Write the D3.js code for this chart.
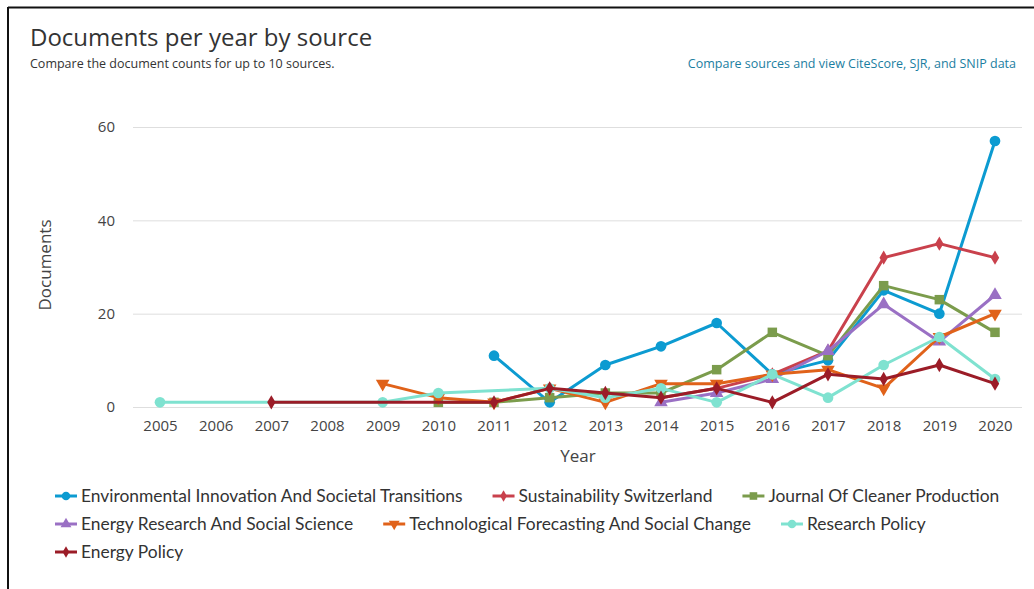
<!DOCTYPE html>
<html><head><meta charset="utf-8">
<script src="https://cdn.jsdelivr.net/npm/d3@7/dist/d3.min.js"></script>
<style>
html,body{margin:0;padding:0;background:#fff;}
svg{display:block;font-family:"Open Sans","Noto Sans",sans-serif;}
</style></head>
<body><svg id="c" width="1034" height="589"></svg>
<script>
const years = d3.range(2005, 2021);
const yTicks = [0, 20, 40, 60];
const seriesNames = [
  "Environmental Innovation And Societal Transitions",
  "Sustainability Switzerland",
  "Journal Of Cleaner Production",
  "Energy Research And Social Science",
  "Technological Forecasting And Social Change",
  "Research Policy",
  "Energy Policy"
];
const seriesColors = ["#0c9bd1","#c9414c","#7b9c4c","#9a70c4","#e0621a","#7fe2d0","#9b1c27"];
const seriesSymbols = ["circle","diamond","square","triangle","triangleDown","circle","diamond"];
// values as [year, count]
const envInnovation = [[2011,11],[2012,1],[2013,9],[2014,13],[2015,18],[2016,7],[2017,10],[2018,25],[2019,20],[2020,57]];
const sustainability = [[2014,2],[2015,4],[2016,7],[2017,12],[2018,32],[2019,35],[2020,32]];
const cleanerProd = [[2010,1],[2011,1],[2012,2],[2013,3],[2014,3],[2015,8],[2016,16],[2017,11],[2018,26],[2019,23],[2020,16]];
const energyResearch = [[2014,1],[2015,3],[2016,6],[2017,12],[2018,22],[2019,14],[2020,24]];
const techForecasting = [[2009,5],[2010,2],[2011,1],[2012,4],[2013,1],[2014,5],[2015,5],[2016,7],[2017,8],[2018,4],[2019,15],[2020,20]];
const researchPolicy = [[2005,1],[2009,1],[2010,3],[2012,4],[2013,2],[2014,4],[2015,1],[2016,7],[2017,2],[2018,9],[2019,15],[2020,6]];
const energyPolicy = [[2007,1],[2011,1],[2012,4],[2013,3],[2014,2],[2015,4],[2016,1],[2017,7],[2018,6],[2019,9],[2020,5]];
const seriesValues = [envInnovation, sustainability, cleanerProd, energyResearch, techForecasting, researchPolicy, energyPolicy];

const svg = d3.select("#c");
// frame
svg.append("line").attr("x1",8).attr("x2",1034).attr("y1",7.5).attr("y2",7.5).attr("stroke","#111").attr("stroke-width",2);
svg.append("line").attr("x1",8).attr("x2",8).attr("y1",7).attr("y2",589).attr("stroke","#111").attr("stroke-width",2);

svg.append("text").attr("x",30).attr("y",46).attr("font-size",24).attr("fill","#333").text("Documents per year by source");
svg.append("text").attr("x",30).attr("y",68).attr("font-size",12.5).attr("fill","#333").text("Compare the document counts for up to 10 sources.");
svg.append("text").attr("x",1016).attr("y",68).attr("text-anchor","end").attr("font-size",12.5).attr("fill","#1b7ea1").text("Compare sources and view CiteScore, SJR, and SNIP data");

const x = d3.scaleLinear().domain([2005,2020]).range([160,995]);
const y = d3.scaleLinear().domain([0,60]).range([407,127]);

// grid
const gy = svg.append("g").attr("transform","translate(133,0)")
  .call(d3.axisLeft(y).tickValues(yTicks).tickSize(-889).tickPadding(18).tickFormat(d3.format("d")));
gy.select(".domain").remove();
gy.selectAll(".tick line").attr("stroke","#dedede");
gy.selectAll(".tick text").attr("font-size",15).attr("fill","#444").attr("font-family","Open Sans, sans-serif");

const gx = svg.append("g").attr("transform","translate(0,407)")
  .call(d3.axisBottom(x).tickValues(years).tickSize(0).tickPadding(13).tickFormat(d3.format("d")));
gx.select(".domain").remove();
gx.selectAll(".tick text").attr("font-size",15).attr("fill","#444").attr("font-family","Open Sans, sans-serif");

svg.append("text").attr("x",578).attr("y",462).attr("text-anchor","middle").attr("font-size",17).attr("fill","#444").text("Year");
svg.append("text").attr("transform","translate(51,265) rotate(-90)").attr("text-anchor","middle").attr("font-size",17).attr("fill","#444").text("Documents");

const symMap = {circle:d3.symbolCircle, diamond:d3.symbolDiamond, square:d3.symbolSquare, triangle:d3.symbolTriangle, triangleDown:d3.symbolTriangle};
const symSize = {circle:90, diamond:60, square:90, triangle:80, triangleDown:80};
function sym(g, t, color){
  const p = g.append("path").attr("d", d3.symbol().type(symMap[t]).size(symSize[t])()).attr("fill",color);
  if (t === "triangleDown") p.attr("transform","rotate(180)");
  return p;
}

const line = d3.line().x(d=>x(d[0])).y(d=>y(d[1]));
const plot = svg.append("g");
seriesValues.forEach((vals, i) => {
  const g = plot.append("g");
  g.append("path").datum(vals).attr("d", line).attr("fill","none").attr("stroke",seriesColors[i]).attr("stroke-width",3).attr("stroke-linejoin","round");
  vals.forEach(d => {
    const m = g.append("g").attr("transform",`translate(${x(d[0])},${y(d[1])})`);
    sym(m, seriesSymbols[i], seriesColors[i]);
  });
});

// legend
const legend = svg.append("g");
const rowH = 28, startX = 55, maxX = 1025;
let lx = startX, ly = 496;
seriesNames.forEach((name, i) => {
  const item = legend.append("g");
  item.append("line").attr("x1",0).attr("x2",22).attr("stroke",seriesColors[i]).attr("stroke-width",3);
  const mg = item.append("g").attr("transform","translate(11,0)");
  sym(mg, seriesSymbols[i], seriesColors[i]).attr("transform", seriesSymbols[i]==="triangleDown" ? "rotate(180) scale(0.8)" : "scale(0.8)");
  const t = item.append("text").attr("x",26).attr("y",6).attr("font-size",17.4).attr("fill","#333").attr("font-family","Lato, Open Sans, sans-serif").text(name);
  const w = 26 + t.node().getComputedTextLength();
  if (lx + w > maxX) { lx = startX; ly += rowH; }
  item.attr("transform",`translate(${lx},${ly})`);
  lx += w + 30;
});
</script></body></html>
